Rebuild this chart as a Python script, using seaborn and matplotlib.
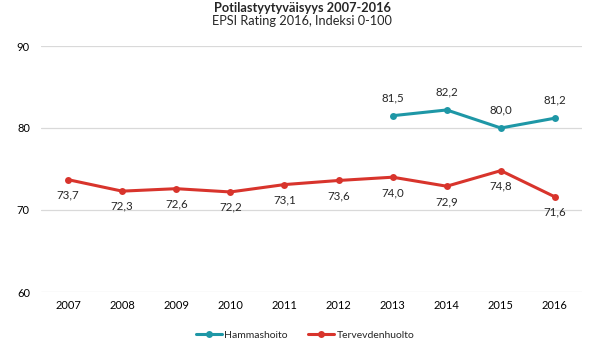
import matplotlib
matplotlib.use("Agg")
import matplotlib.pyplot as plt
import seaborn as sns
import pandas as pd

years = [2007, 2008, 2009, 2010, 2011, 2012, 2013, 2014, 2015, 2016]
terveys = [73.7, 72.3, 72.6, 72.2, 73.1, 73.6, 74.0, 72.9, 74.8, 71.6]
hammas_years = [2013, 2014, 2015, 2016]
hammas = [81.5, 82.2, 80.0, 81.2]
series_names = ["Hammashoito", "Tervevdenhuolto"]
colors = {"Hammashoito": "#1e97a6", "Tervevdenhuolto": "#d8342c"}

df = pd.concat([
    pd.DataFrame({"Vuosi": hammas_years, "Indeksi": hammas, "Sarja": series_names[0]}),
    pd.DataFrame({"Vuosi": years, "Indeksi": terveys, "Sarja": series_names[1]}),
])

sns.set_theme(style="white")
plt.rcParams["font.family"] = ["Lato", "DejaVu Sans"]

fig = plt.figure(figsize=(6.04, 3.39), dpi=100)
ax = fig.add_axes([41/604, 1-292/339, (582-41)/604, (292-46)/339])

sns.lineplot(data=df, x="Vuosi", y="Indeksi", hue="Sarja", hue_order=series_names,
             palette=colors, marker="o", markersize=5, markeredgewidth=0,
             linewidth=2.2, ax=ax, legend=True)

ax.set_xlim(2006.5, 2016.5)
ax.set_ylim(60, 90)
ax.set_yticks([60, 70, 80, 90])
ax.set_xticks(years)
ax.set_xticklabels([str(y) for y in years])
ax.grid(axis="y", color="#d9d9d9", linewidth=0.9)
ax.set_axisbelow(True)
for s in ax.spines.values():
    s.set_visible(False)
ax.tick_params(axis="both", length=0, labelsize=8, colors="#000000")
ax.tick_params(axis="y", pad=8)
ax.tick_params(axis="x", pad=6)
ax.set_xlabel("")
ax.set_ylabel("")

for x, v in zip(hammas_years, hammas):
    ax.annotate(f"{v:.1f}".replace(".", ","), (x, v), xytext=(0, 9),
                textcoords="offset points", ha="center", va="bottom", fontsize=8.3)
for x, v in zip(years, terveys):
    ax.annotate(f"{v:.1f}".replace(".", ","), (x, v), xytext=(0, -7),
                textcoords="offset points", ha="center", va="top", fontsize=8.3)

fig.text(0.5, 1-8/339, "Potilastyytyväisyys 2007-2016", ha="center", va="center",
         fontsize=9.2, fontweight="bold")
fig.text(0.5, 1-21/339, "EPSI Rating 2016, Indeksi 0-100", ha="center", va="center",
         fontsize=9.2)

handles, labels = ax.get_legend_handles_labels()
ax.legend(handles, labels, loc="center", bbox_to_anchor=(305/604, 1-335/339),
          bbox_transform=fig.transFigure, ncol=2, frameon=False, fontsize=7.5,
          handlelength=2.5, columnspacing=2.0, handletextpad=0.2)

fig.savefig("out.png", dpi=100)
